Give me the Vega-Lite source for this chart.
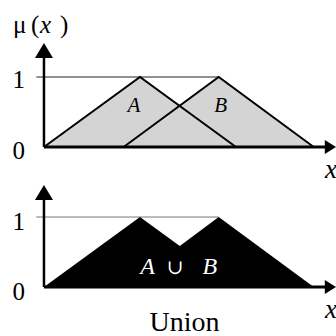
{
  "$schema": "https://vega.github.io/schema/vega-lite/v6.json",
  "padding": 0,
  "spacing": 0,
  "bounds": "flush",
  "config": {"view": {"stroke": null}},
  "vconcat": [
    {
      "width": 336,
      "height": 180,
      "encoding": {
        "x": {"field": "x", "type": "quantitative", "scale": {"domain": [-0.458, 3.042], "nice": false, "zero": false}, "axis": null},
        "y": {"field": "mu", "type": "quantitative", "stack": null, "scale": {"domain": [-0.471, 2.1], "nice": false, "zero": false}, "axis": null}
      },
      "layer": [
        {
          "data": {"values": [{"set": "A", "x": 0, "mu": 0}, {"set": "A", "x": 1, "mu": 1}, {"set": "A", "x": 2, "mu": 0}, {"set": "B", "x": 0.83, "mu": 0}, {"set": "B", "x": 1.82, "mu": 1}, {"set": "B", "x": 2.81, "mu": 0}]},
          "mark": {"type": "area", "color": "#d4d4d4", "opacity": 1},
          "encoding": {"detail": {"field": "set"}}
        },
        {
          "data": {"values": [{"x": -0.08, "x2": 1.82, "mu": 1}]},
          "mark": {"type": "rule", "color": "#222222", "strokeWidth": 1},
          "encoding": {"x2": {"field": "x2"}}
        },
        {
          "data": {"values": [{"set": "A", "x": 0, "mu": 0}, {"set": "A", "x": 1, "mu": 1}, {"set": "A", "x": 2, "mu": 0}, {"set": "B", "x": 0.83, "mu": 0}, {"set": "B", "x": 1.82, "mu": 1}, {"set": "B", "x": 2.81, "mu": 0}]},
          "mark": {"type": "line", "color": "black", "strokeWidth": 2},
          "encoding": {"detail": {"field": "set"}}
        },
        {
          "data": {"values": [{"x": 0, "mu": 0, "mu2": 1.3}]},
          "mark": {"type": "rule", "color": "black", "strokeWidth": 2.5},
          "encoding": {"y2": {"field": "mu2"}}
        },
        {
          "data": {"values": [{"x": 0, "x2": 2.93, "mu": 0}]},
          "mark": {"type": "rule", "color": "black", "strokeWidth": 3},
          "encoding": {"x2": {"field": "x2"}}
        },
        {
          "data": {"values": [{"x": 0, "mu": 1.379}]},
          "mark": {"type": "point", "shape": "M-1,0.833L0,-0.833L1,0.833Z", "filled": true, "size": 324, "color": "black", "opacity": 1}
        },
        {
          "data": {"values": [{"x": 2.984, "mu": 0}]},
          "mark": {"type": "point", "shape": "M-0.8,-1L0.8,0L-0.8,1Z", "filled": true, "size": 196, "color": "black", "opacity": 1}
        },
        {
          "data": {"values": [{"t": "μ", "x": -0.323, "mu": 1.633}, {"t": "(", "x": -0.135, "mu": 1.633}, {"t": ")", "x": 0.167, "mu": 1.633}]},
          "mark": {"type": "text", "align": "left", "baseline": "alphabetic", "fontSize": 25, "font": "Liberation Serif", "color": "black"},
          "encoding": {"text": {"field": "t"}}
        },
        {
          "data": {"values": [{"t": "x", "x": -0.042, "mu": 1.633}]},
          "mark": {"type": "text", "align": "left", "baseline": "alphabetic", "fontSize": 25, "fontStyle": "italic", "font": "Liberation Serif", "color": "black"},
          "encoding": {"text": {"field": "t"}}
        },
        {
          "data": {"values": [{"t": "1", "x": -0.198, "mu": 0.843}, {"t": "0", "x": -0.198, "mu": -0.171}]},
          "mark": {"type": "text", "align": "right", "baseline": "alphabetic", "fontSize": 25, "font": "Liberation Serif", "color": "black"},
          "encoding": {"text": {"field": "t"}}
        },
        {
          "data": {"values": [{"t": "x", "x": 2.927, "mu": -0.443}]},
          "mark": {"type": "text", "align": "left", "baseline": "alphabetic", "fontSize": 27, "fontStyle": "italic", "font": "Liberation Serif", "color": "black"},
          "encoding": {"text": {"field": "t"}}
        },
        {
          "data": {"values": [{"t": "A", "x": 0.9375, "mu": 0.5}, {"t": "B", "x": 1.84, "mu": 0.5}]},
          "mark": {"type": "text", "align": "center", "baseline": "alphabetic", "fontSize": 21, "fontStyle": "italic", "font": "Liberation Serif", "color": "black"},
          "encoding": {"text": {"field": "t"}}
        }
      ]
    },
    {
      "width": 336,
      "height": 156,
      "encoding": {
        "x": {"field": "x", "type": "quantitative", "scale": {"domain": [-0.458, 3.042], "nice": false, "zero": false}, "axis": null},
        "y": {"field": "mu", "type": "quantitative", "stack": null, "scale": {"domain": [-0.7, 1.529], "nice": false, "zero": false}, "axis": null}
      },
      "layer": [
        {
          "data": {"values": [{"x": -0.08, "x2": 1.82, "mu": 1}]},
          "mark": {"type": "rule", "color": "#777777", "strokeWidth": 1},
          "encoding": {"x2": {"field": "x2"}}
        },
        {
          "data": {"values": [{"x": 0, "mu": 0}, {"x": 1, "mu": 1}, {"x": 1.415, "mu": 0.585}, {"x": 1.82, "mu": 1}, {"x": 2.81, "mu": 0}]},
          "mark": {"type": "area", "color": "black", "opacity": 1}
        },
        {
          "data": {"values": [{"x": 0, "mu": 0, "mu2": 1.3}]},
          "mark": {"type": "rule", "color": "black", "strokeWidth": 2.5},
          "encoding": {"y2": {"field": "mu2"}}
        },
        {
          "data": {"values": [{"x": 0, "x2": 2.93, "mu": 0}]},
          "mark": {"type": "rule", "color": "black", "strokeWidth": 3},
          "encoding": {"x2": {"field": "x2"}}
        },
        {
          "data": {"values": [{"x": 0, "mu": 1.35}]},
          "mark": {"type": "point", "shape": "M-1,0.833L0,-0.833L1,0.833Z", "filled": true, "size": 324, "color": "black", "opacity": 1}
        },
        {
          "data": {"values": [{"x": 2.984, "mu": 0}]},
          "mark": {"type": "point", "shape": "M-0.8,-1L0.8,0L-0.8,1Z", "filled": true, "size": 196, "color": "black", "opacity": 1}
        },
        {
          "data": {"values": [{"t": "1", "x": -0.198, "mu": 0.814}, {"t": "0", "x": -0.198, "mu": -0.186}]},
          "mark": {"type": "text", "align": "right", "baseline": "alphabetic", "fontSize": 25, "font": "Liberation Serif", "color": "black"},
          "encoding": {"text": {"field": "t"}}
        },
        {
          "data": {"values": [{"t": "x", "x": 2.927, "mu": -0.443}]},
          "mark": {"type": "text", "align": "left", "baseline": "alphabetic", "fontSize": 27, "fontStyle": "italic", "font": "Liberation Serif", "color": "black"},
          "encoding": {"text": {"field": "t"}}
        },
        {
          "data": {"values": [{"t": "A", "x": 1.078, "mu": 0.186}, {"t": "B", "x": 1.729, "mu": 0.186}]},
          "mark": {"type": "text", "align": "center", "baseline": "alphabetic", "fontSize": 24, "fontStyle": "italic", "font": "Liberation Serif", "color": "white"},
          "encoding": {"text": {"field": "t"}}
        },
        {
          "data": {"values": [{"t": "∪", "x": 1.365, "mu": 0.186}]},
          "mark": {"type": "text", "align": "center", "baseline": "alphabetic", "fontSize": 20, "font": "DejaVu Serif", "color": "white"},
          "encoding": {"text": {"field": "t"}}
        },
        {
          "data": {"values": [{"t": "Union", "x": 1.463, "mu": -0.63}]},
          "mark": {"type": "text", "align": "center", "baseline": "alphabetic", "fontSize": 28, "font": "Liberation Serif", "color": "black"},
          "encoding": {"text": {"field": "t"}}
        }
      ]
    }
  ]
}
